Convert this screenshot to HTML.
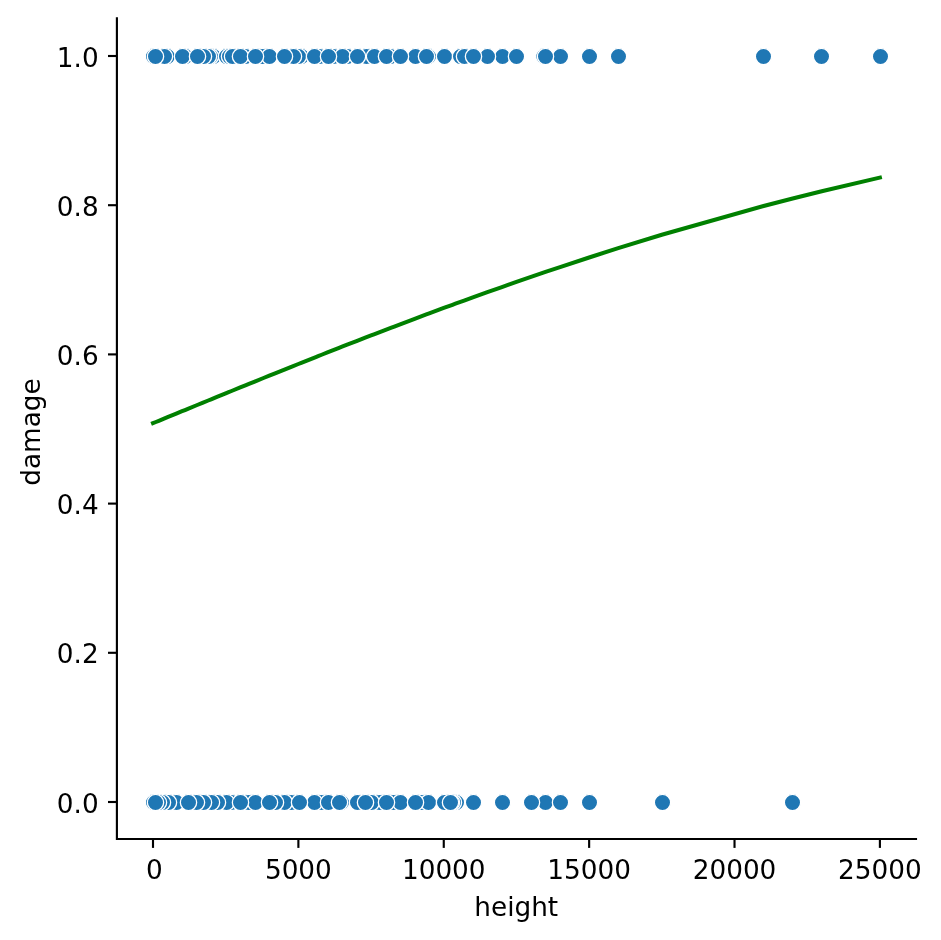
<!DOCTYPE html>
<html lang="en"><head><meta charset="utf-8"><title>damage vs height</title>
<style>html,body{margin:0;padding:0;background:#fff}body{width:941px;height:940px;overflow:hidden}svg{display:block}text{font-family:"DejaVu Sans","Liberation Sans",sans-serif;font-size:26.30px;fill:#000}</style></head><body>
<svg width="941" height="940" viewBox="0 0 941 940">
<rect width="941" height="940" fill="#fff"/>
<g fill="#1f77b4" stroke="#fff" stroke-width="1.3">
<circle cx="153.5" cy="56.5" r="8.15"/>
<circle cx="167.5" cy="56.5" r="8.15"/>
<circle cx="164.5" cy="56.5" r="8.15"/>
<circle cx="155.5" cy="56.5" r="8.15"/>
<circle cx="185.5" cy="56.5" r="8.15"/>
<circle cx="182.5" cy="56.5" r="8.15"/>
<circle cx="213.5" cy="56.5" r="8.15"/>
<circle cx="210.5" cy="56.5" r="8.15"/>
<circle cx="208.5" cy="56.5" r="8.15"/>
<circle cx="203.5" cy="56.5" r="8.15"/>
<circle cx="197.5" cy="56.5" r="8.15"/>
<circle cx="226.5" cy="56.5" r="8.15"/>
<circle cx="229.5" cy="56.5" r="8.15"/>
<circle cx="232.5" cy="56.5" r="8.15"/>
<circle cx="245.5" cy="56.5" r="8.15"/>
<circle cx="240.5" cy="56.5" r="8.15"/>
<circle cx="262.5" cy="56.5" r="8.15"/>
<circle cx="269.5" cy="56.5" r="8.15"/>
<circle cx="255.5" cy="56.5" r="8.15"/>
<circle cx="301.5" cy="56.5" r="8.15"/>
<circle cx="298.5" cy="56.5" r="8.15"/>
<circle cx="293.5" cy="56.5" r="8.15"/>
<circle cx="284.5" cy="56.5" r="8.15"/>
<circle cx="319.5" cy="56.5" r="8.15"/>
<circle cx="314.5" cy="56.5" r="8.15"/>
<circle cx="333.5" cy="56.5" r="8.15"/>
<circle cx="347.5" cy="56.5" r="8.15"/>
<circle cx="342.5" cy="56.5" r="8.15"/>
<circle cx="328.5" cy="56.5" r="8.15"/>
<circle cx="366.5" cy="56.5" r="8.15"/>
<circle cx="357.5" cy="56.5" r="8.15"/>
<circle cx="374.5" cy="56.5" r="8.15"/>
<circle cx="390.5" cy="56.5" r="8.15"/>
<circle cx="386.5" cy="56.5" r="8.15"/>
<circle cx="415.5" cy="56.5" r="8.15"/>
<circle cx="400.5" cy="56.5" r="8.15"/>
<circle cx="428.5" cy="56.5" r="8.15"/>
<circle cx="426.5" cy="56.5" r="8.15"/>
<circle cx="444.5" cy="56.5" r="8.15"/>
<circle cx="460.5" cy="56.5" r="8.15"/>
<circle cx="464.5" cy="56.5" r="8.15"/>
<circle cx="502.5" cy="56.5" r="8.15"/>
<circle cx="487.5" cy="56.5" r="8.15"/>
<circle cx="473.5" cy="56.5" r="8.15"/>
<circle cx="516.5" cy="56.5" r="8.15"/>
<circle cx="543.8" cy="56.5" r="8.15"/>
<circle cx="560.5" cy="56.5" r="8.15"/>
<circle cx="545.5" cy="56.5" r="8.15"/>
<circle cx="589.5" cy="56.5" r="8.15"/>
<circle cx="618.5" cy="56.5" r="8.15"/>
<circle cx="763.5" cy="56.5" r="8.15"/>
<circle cx="821.5" cy="56.5" r="8.15"/>
<circle cx="880.5" cy="56.5" r="8.15"/>
<circle cx="153.5" cy="802.5" r="8.15"/>
<circle cx="176.5" cy="802.5" r="8.15"/>
<circle cx="168.5" cy="802.5" r="8.15"/>
<circle cx="162.5" cy="802.5" r="8.15"/>
<circle cx="158.5" cy="802.5" r="8.15"/>
<circle cx="155.5" cy="802.5" r="8.15"/>
<circle cx="231.5" cy="802.5" r="8.15"/>
<circle cx="226.5" cy="802.5" r="8.15"/>
<circle cx="217.5" cy="802.5" r="8.15"/>
<circle cx="211.5" cy="802.5" r="8.15"/>
<circle cx="203.5" cy="802.5" r="8.15"/>
<circle cx="196.5" cy="802.5" r="8.15"/>
<circle cx="188.5" cy="802.5" r="8.15"/>
<circle cx="248.5" cy="802.5" r="8.15"/>
<circle cx="255.5" cy="802.5" r="8.15"/>
<circle cx="240.5" cy="802.5" r="8.15"/>
<circle cx="291.5" cy="802.5" r="8.15"/>
<circle cx="284.5" cy="802.5" r="8.15"/>
<circle cx="275.5" cy="802.5" r="8.15"/>
<circle cx="269.5" cy="802.5" r="8.15"/>
<circle cx="321.5" cy="802.5" r="8.15"/>
<circle cx="314.5" cy="802.5" r="8.15"/>
<circle cx="299.5" cy="802.5" r="8.15"/>
<circle cx="328.5" cy="802.5" r="8.15"/>
<circle cx="341.5" cy="802.5" r="8.15"/>
<circle cx="339.5" cy="802.5" r="8.15"/>
<circle cx="357.5" cy="802.5" r="8.15"/>
<circle cx="379.5" cy="802.5" r="8.15"/>
<circle cx="371.5" cy="802.5" r="8.15"/>
<circle cx="365.5" cy="802.5" r="8.15"/>
<circle cx="393.5" cy="802.5" r="8.15"/>
<circle cx="400.5" cy="802.5" r="8.15"/>
<circle cx="386.5" cy="802.5" r="8.15"/>
<circle cx="421.5" cy="802.5" r="8.15"/>
<circle cx="428.5" cy="802.5" r="8.15"/>
<circle cx="415.5" cy="802.5" r="8.15"/>
<circle cx="444.5" cy="802.5" r="8.15"/>
<circle cx="456.5" cy="802.5" r="8.15"/>
<circle cx="453.5" cy="802.5" r="8.15"/>
<circle cx="451.5" cy="802.5" r="8.15"/>
<circle cx="450.5" cy="802.5" r="8.15"/>
<circle cx="473.5" cy="802.5" r="8.15"/>
<circle cx="502.5" cy="802.5" r="8.15"/>
<circle cx="545.5" cy="802.5" r="8.15"/>
<circle cx="531.5" cy="802.5" r="8.15"/>
<circle cx="560.5" cy="802.5" r="8.15"/>
<circle cx="589.5" cy="802.5" r="8.15"/>
<circle cx="662.5" cy="802.5" r="8.15"/>
<circle cx="792.5" cy="802.5" r="8.15"/>
</g>
<polyline points="153.00,423.18 155.91,421.98 158.82,420.79 161.72,419.59 164.63,418.39 167.54,417.20 176.26,413.61 182.08,411.22 184.98,410.03 187.89,408.83 196.61,405.25 202.43,402.87 208.24,400.49 211.15,399.30 214.06,398.11 216.97,396.92 225.69,393.36 228.60,392.17 231.51,390.99 240.23,387.43 246.04,385.07 248.95,383.89 254.77,381.53 263.49,378.00 269.30,375.66 275.12,373.31 283.84,369.81 292.56,366.31 298.38,363.99 301.29,362.83 315.83,357.04 318.73,355.89 321.64,354.74 327.46,352.44 333.27,350.15 339.09,347.87 341.99,346.73 347.81,344.45 356.53,341.05 365.25,337.67 371.07,335.42 373.98,334.30 379.79,332.06 385.61,329.84 391.42,327.61 394.33,326.51 400.15,324.30 414.68,318.81 420.50,316.62 426.31,314.45 429.22,313.37 443.76,307.98 449.58,305.85 452.48,304.78 455.39,303.72 461.21,301.60 464.11,300.54 472.84,297.39 487.37,292.17 501.91,287.02 516.45,281.94 530.99,276.91 542.62,272.94 545.53,271.95 560.06,267.06 589.14,257.48 618.22,248.18 661.83,234.77 763.60,206.02 792.67,198.48 821.75,191.22 879.90,177.59" fill="none" stroke="#008000" stroke-width="4.0" stroke-linecap="square" stroke-linejoin="round"/>
<g stroke="#000" stroke-width="2.13" fill="none">
<line x1="153.00" y1="839.00" x2="153.00" y2="847.90"/>
<line x1="298.38" y1="839.00" x2="298.38" y2="847.90"/>
<line x1="443.76" y1="839.00" x2="443.76" y2="847.90"/>
<line x1="589.14" y1="839.00" x2="589.14" y2="847.90"/>
<line x1="734.52" y1="839.00" x2="734.52" y2="847.90"/>
<line x1="879.90" y1="839.00" x2="879.90" y2="847.90"/>
<line x1="116.90" y1="802.00" x2="108.00" y2="802.00"/>
<line x1="116.90" y1="652.80" x2="108.00" y2="652.80"/>
<line x1="116.90" y1="503.60" x2="108.00" y2="503.60"/>
<line x1="116.90" y1="354.40" x2="108.00" y2="354.40"/>
<line x1="116.90" y1="205.20" x2="108.00" y2="205.20"/>
<line x1="116.90" y1="56.00" x2="108.00" y2="56.00"/>
<path d="M116.90 18.20V839.00H916.00" stroke-linecap="square" stroke-linejoin="miter"/>
</g>
<g text-anchor="middle">
<text x="154.30" y="878.5">0</text>
<text x="298.38" y="878.5">5000</text>
<text x="443.76" y="878.5">10000</text>
<text x="589.14" y="878.5">15000</text>
<text x="734.52" y="878.5">20000</text>
<text x="879.90" y="878.5">25000</text>
</g><g text-anchor="end">
<text x="98.7" y="812.55">0.0</text>
<text x="98.7" y="663.35">0.2</text>
<text x="98.7" y="514.15">0.4</text>
<text x="98.7" y="364.95">0.6</text>
<text x="98.7" y="215.75">0.8</text>
<text x="98.7" y="66.55">1.0</text>
</g>
<text x="516.2" y="915.6" text-anchor="middle">height</text>
<text transform="translate(40 432) rotate(-90)" text-anchor="middle">damage</text>
</svg></body></html>
